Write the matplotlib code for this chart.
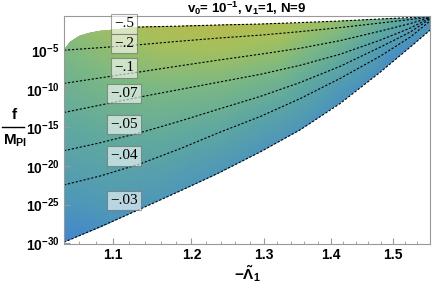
import numpy as np
import matplotlib.pyplot as plt
from matplotlib.colors import LinearSegmentedColormap
from matplotlib.patches import Polygon
from matplotlib.lines import Line2D

plt.rcParams['font.family'] = ['Liberation Sans', 'DejaVu Sans']
plt.rcParams['mathtext.fontset'] = 'custom'
plt.rcParams['mathtext.rm'] = 'Liberation Sans'
plt.rcParams['mathtext.bf'] = 'Liberation Sans:bold'
plt.rcParams['mathtext.it'] = 'Liberation Sans:italic'

# x = -Lambda_1 (log axis), y = log10(f / M_Pl)
levels = ['\u2212.5', '\u2212.2', '\u2212.1', '\u2212.07', '\u2212.05', '\u2212.04', '\u2212.03']

x_line = [1.042, 1.085, 1.134, 1.185, 1.235, 1.295, 1.354, 1.415, 1.479, 1.529, 1.563]
x_m05 = [1.131, 1.185, 1.235, 1.295, 1.354, 1.415, 1.479, 1.529, 1.563]
y_m05 = [-2.00, -1.88, -1.74, -1.61, -1.42, -1.22, -0.96, -0.77, -0.64]
y_m02 = [-5.00, -4.67, -4.28, -3.83, -3.44, -3.05, -2.59, -2.07, -1.48, -1.03, -0.70]
y_m01 = [-9.30, -8.58, -7.80, -7.02, -6.30, -5.52, -4.74, -3.76, -2.53, -1.55, -0.77]
y_m007 = [-13.07, -12.10, -11.05, -10.08, -9.17, -8.13, -6.95, -5.52, -3.70, -2.14, -0.83]
y_m005 = [-18.02, -16.98, -15.68, -14.18, -12.68, -10.99, -9.17, -7.08, -4.61, -2.66, -0.96]
y_m004 = [-22.45, -21.28, -19.71, -17.76, -15.75, -13.59, -11.25, -8.65, -5.78, -3.31, -1.22]
y_m003 = [-29.87, -27.85, -25.57, -23.23, -20.98, -18.18, -15.29, -11.90, -7.86, -4.61, -2.40]

# upper-left edge of the allowed region
x_edge = [1.042, 1.049, 1.060, 1.071, 1.083, 1.097, 1.131]
y_edge = [-5.00, -3.96, -3.18, -2.79, -2.53, -2.40, -2.00]

# label positions
lab_x = [1.114] * 7
lab_y = [-1.6, -4.1, -7.3, -10.6, -14.6, -18.7, -24.5]

# colour samples (0 = blue, 1 = yellow) on a coarse grid
col_x = [1.042, 1.097, 1.159, 1.239, 1.324, 1.415, 1.495, 1.563]
col_y = [-30, -25, -20, -15, -10, -5, -0.5]
col_v = [
    [0.06, 0.10, 0.06, 0.00, 0.00, 0.00, 0.00, 0.00],
    [0.18, 0.22, 0.18, 0.08, 0.00, 0.00, 0.00, 0.00],
    [0.30, 0.34, 0.32, 0.22, 0.06, 0.00, 0.00, 0.00],
    [0.40, 0.45, 0.46, 0.40, 0.25, 0.05, 0.00, 0.00],
    [0.50, 0.57, 0.60, 0.58, 0.48, 0.22, 0.03, 0.00],
    [0.60, 0.70, 0.78, 0.80, 0.72, 0.48, 0.18, 0.04],
    [0.70, 0.82, 0.92, 0.97, 0.92, 0.75, 0.50, 0.22],
]

cmap = LinearSegmentedColormap.from_list(
    'bgy', ['#3b7dd8', '#4f98b8', '#5fa8a0', '#7cb884', '#a4c05e', '#c2b846'])

fig = plt.figure(figsize=(4.34, 2.84), dpi=100)
ax = fig.add_axes([64 / 434, 40 / 284, 366 / 434, 228 / 284])
ax.set_xscale('log')
ax.set_yscale('log')
xmin, xmax = 1.042, 1.563
ymin, ymax = 10 ** -30.1, 10 ** -0.57
ax.set_xlim(xmin, xmax)
ax.set_ylim(ymin, ymax)

# fine colour field, bilinear in (ln x, log10 f)
gx = np.linspace(np.log(xmin), np.log(xmax), 200)
gy = np.linspace(-30.1, -0.57, 200)
cv = np.array(col_v)
rows = np.array([np.interp(gx, np.log(col_x), r) for r in cv])
field = np.array([np.interp(gy, col_y, rows[:, j]) for j in range(len(gx))]).T
X, Y = np.meshgrid(np.exp(gx), 10 ** gy)
mesh = ax.pcolormesh(X, Y, field, cmap=cmap, vmin=0, vmax=1, shading='gouraud')

# region outline
px = list(x_edge) + list(x_m05[1:]) + [xmax] + list(x_line[::-1])
py = list(y_edge) + list(y_m05[1:]) + [y_m003[-1]] + list(y_m003[::-1])
poly = Polygon(np.column_stack([px, 10 ** np.array(py)]), closed=True,
               facecolor='none', edgecolor='none')
ax.add_patch(poly)
mesh.set_clip_path(poly)

lines = [(x_m05, y_m05), (x_line, y_m02), (x_line, y_m01), (x_line, y_m007),
         (x_line, y_m005), (x_line, y_m004), (x_line, y_m003)]
for (lx, ly) in lines:
    ax.plot(lx, 10 ** np.array(ly), color='black', lw=0.8, ls=(0, (2, 1.6)))

for name, lx, ly in zip(levels, lab_x, lab_y):
    ax.text(lx, 10 ** ly, name, ha='center', va='center', fontsize=11,
            family='Liberation Serif',
            bbox=dict(boxstyle='square,pad=0.2', facecolor='white', alpha=0.6,
                      edgecolor='#666666', linewidth=0.8))

# ticks
ax.set_xticks([1.1, 1.2, 1.3, 1.4, 1.5])
ax.set_xticklabels(['1.1', '1.2', '1.3', '1.4', '1.5'])
ax.set_xticks(np.arange(1.06, 1.56, 0.02), minor=True)
ax.xaxis.set_minor_formatter(plt.NullFormatter())
yt = [-30, -25, -20, -15, -10, -5]
ax.set_yticks([10.0 ** v for v in yt])
ax.set_yticklabels([r'$\mathbf{10^{%d}}$' % v for v in yt])
ax.yaxis.set_minor_locator(plt.NullLocator())
ax.tick_params(which='both', direction='in', color='#999999', labelsize=10, pad=3)
ax.tick_params(which='major', length=4)
ax.tick_params(which='minor', length=2)
for lab in ax.get_xticklabels():
    lab.set_fontweight('bold')
for s in ax.spines.values():
    s.set_color('#999999')
    s.set_linewidth(0.8)

fig.text(247 / 434, 1 - 8 / 284,
         r'$\mathbf{v_0}$= $\mathbf{10^{-1}}$, $\mathbf{v_1}$=1, N=9',
         fontsize=9.5, fontweight='bold', ha='center', va='center')
ax.set_xlabel(r'$\mathbf{-\tilde{\Lambda}_1}$', fontsize=11, labelpad=1)
fig.text(14 / 434, 1 - 115 / 284, 'f', fontsize=11, fontweight='bold',
         ha='center', va='center')
fig.add_artist(Line2D([2 / 434, 24 / 434], [1 - 127 / 284, 1 - 127 / 284],
                      color='black', lw=1.0))
fig.text(15 / 434, 1 - 141 / 284, r'M$_{\mathbf{Pl}}$', fontsize=11,
         fontweight='bold', ha='center', va='center')

fig.savefig('out.png', dpi=100)
